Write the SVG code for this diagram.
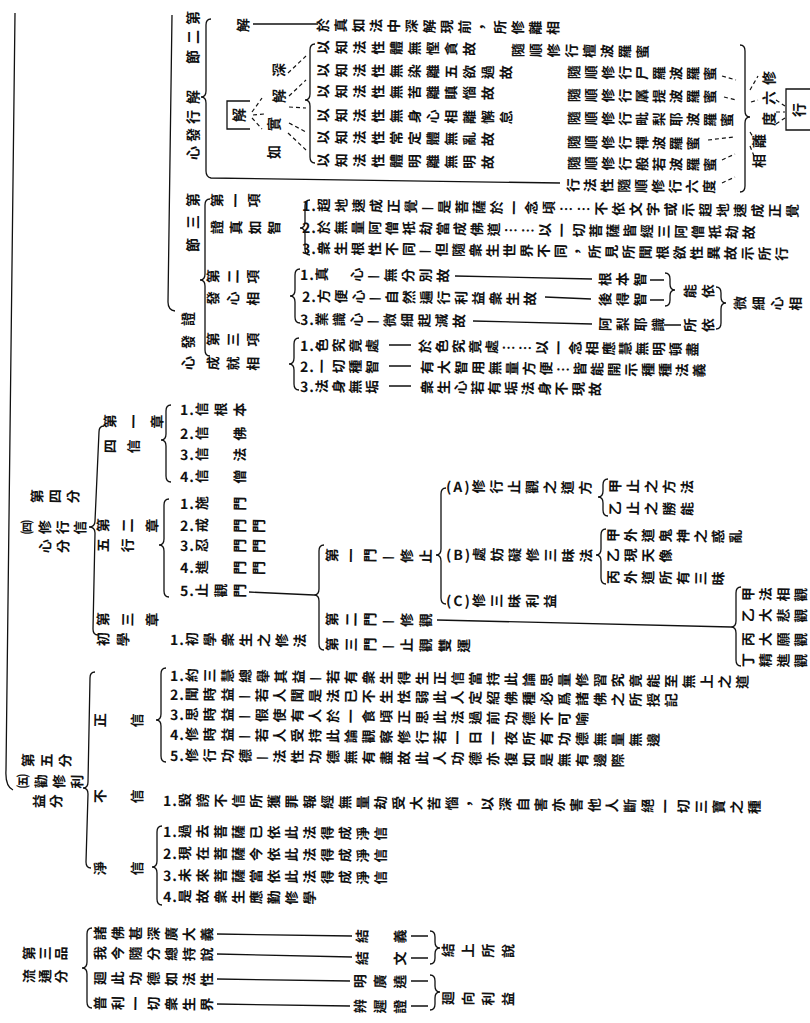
<svg xmlns="http://www.w3.org/2000/svg" width="810" height="1023" viewBox="0 0 810 1023">
<style>
.v{writing-mode:vertical-rl;font-family:"Noto Sans CJK TC","Noto Sans CJK SC",sans-serif;font-size:14px;font-weight:700;fill:#111}
.h{font-family:"Noto Sans CJK TC","Noto Sans CJK SC",sans-serif;font-size:14px;font-weight:700;fill:#111;text-anchor:middle;dominant-baseline:central}
.n{letter-spacing:1px}
.l{fill:none;stroke:#111;stroke-width:1.3}
.d{fill:none;stroke:#111;stroke-width:1.2;stroke-dasharray:4 3}
</style>
<rect width="810" height="1023" fill="#fff"/>
<g id="connectors">
<path class="l" d="M15,13 L6,770 Q5,786 13,790"/>
<path class="l" d="M172,15 L168,302 Q168,310 175,311"/>
<path class="l" d="M211,19 Q206,19 206,25 L206,91 Q206,97 201,97 Q206,97 206,103 L206,171 Q206,177 211,178 L560,183"/>
<path class="l" d="M253,24 L318,24"/>
<path class="l" d="M250,101 H227 V129 H250"/>
<path class="l" d="M810,89 H786 V130 H810"/>
<path class="d" d="M252,112 L262,98 M253,115 L264,114 M252,118 L262,129"/>
<path class="d" d="M288,73 L306,56 M289,96 L306,80 M289,107 L306,108 M289,123 L306,132 M288,133 L306,150"/>
<path class="l" d="M315,44 Q310,44 310,50 L310,94 Q310,100 305,100 Q310,100 310,106 L310,157 Q310,163 315,163"/>
<path class="d" d="M722,76 L736,80 M724,97 L736,100 M708,140 L734,137 M722,160 L735,154 M722,183 L735,177"/>
<path class="l" d="M740,45 Q745,45 745,51 L745,111 Q745,117 750,117 Q745,117 745,123 L745,186 Q745,192 740,192"/>
<path class="d" d="M750,90 L758,76 M751,102 L758,100 M750,132 L756,142 M750,146 L754,156"/>
<path class="d" d="M776,100 L785,106 M776,112 L785,112 M776,124 L785,118"/>
<path class="l" d="M210,199 Q205,199 205,205 L205,274 Q205,280 200,280 Q205,280 205,286 L205,350 Q205,356 210,356"/>
<path class="l" d="M310,200 Q305,200 305,206 L305,222 Q305,228 300,228 Q305,228 305,234 L305,249 Q305,255 310,255"/>
<path class="l" d="M300,269 Q295,269 295,275 L295,290 Q295,296 290,296 Q295,296 295,302 L295,317 Q295,323 300,323"/>
<path class="l" d="M299,338 Q294,338 294,344 L294,358 Q294,364 289,364 Q294,364 294,370 L294,384 Q294,390 299,390"/>
<path class="l" d="M455,276 L592,279 M545,297 L591,299 M473,321 L592,324"/>
<path class="l" d="M650,280 L664,280 M650,300 L664,300 M664,325 L681,325"/>
<path class="l" d="M665,273 Q670,273 670,279 L670,284 Q670,290 675,290 Q670,290 670,296 L670,300 Q670,306 665,306"/>
<path class="l" d="M716,287 Q721,287 721,293 L721,297 Q721,303 726,303 Q721,303 721,309 L721,323 Q721,329 716,329"/>
<path class="l" d="M389,345 L411,345 M389,366 L411,366 M389,386 L411,386"/>
<path class="l" d="M104,426 Q99,426 99,432 L95,521 Q95,527 89,527 Q95,527 95,533 L93,629 Q93,635 98,635"/>
<path class="l" d="M171,405 Q166,405 166,411 L166,434 Q166,440 161,440 Q166,440 166,446 L166,476 Q166,482 171,482"/>
<path class="l" d="M169,499 Q164,499 164,505 L164,539 Q164,545 159,545 Q164,545 164,551 L164,591 Q164,597 169,597"/>
<path class="l" d="M249,592 L314,595"/>
<path class="l" d="M324,545 Q319,545 319,551 L319,589 Q319,595 314,595 Q319,595 319,601 L319,644 Q319,650 324,650"/>
<path class="l" d="M446,488 Q441,488 441,494 L441,549 Q441,555 436,555 Q441,555 441,561 L441,598 Q441,604 446,604"/>
<path class="l" d="M608,479 Q603,479 603,485 L603,491 Q603,497 598,497 Q603,497 603,503 L603,510 Q603,516 608,516"/>
<path class="l" d="M606,529 Q601,529 601,535 L601,549 Q601,555 596,555 Q601,555 601,561 L601,578 Q601,584 606,584"/>
<path class="l" d="M437,620 L731,627"/>
<path class="l" d="M741,587 Q736,587 736,593 L736,621 Q736,627 731,627 Q736,627 736,633 L736,660 Q736,666 741,666"/>
<path class="l" d="M95,672 Q90,672 90,678 L88,782 Q88,788 83,788 Q88,788 88,794 L86,862 Q86,868 91,868"/>
<path class="l" d="M166,668 Q161,668 161,674 L161,714 Q161,720 156,720 Q161,720 161,726 L161,756 Q161,762 166,762"/>
<path class="l" d="M162,826 Q157,826 157,832 L157,861 Q157,867 152,867 Q157,867 157,873 L157,899 Q157,905 162,905"/>
<path class="l" d="M92,928 Q87,928 87,934 L87,962 Q87,968 82,968 Q87,968 87,974 L87,1002 Q87,1008 92,1008"/>
<path class="l" d="M217,934 L352,936 M217,954 L352,957 M217,979 L350,981 M217,1004 L350,1006"/>
<path class="l" d="M411,936 L428,936 M411,958 L428,958 M411,981 L428,981 M411,1006 L428,1006"/>
<path class="l" d="M430,931 Q435,931 435,937 L435,942 Q435,948 440,948 Q435,948 435,954 L435,958 Q435,964 430,964"/>
<path class="l" d="M430,975 Q435,975 435,981 L435,986 Q435,992 440,992 Q435,992 435,998 L435,1004 Q435,1010 430,1010"/>
</g>
<g id="n-jiexing">
<text class="h" transform="translate(192,0) rotate(-90)" x="-18 -37 -57">第二節</text>
<text class="h" transform="translate(192,0) rotate(-90)" x="-97 -117 -135 -153">解行發心</text>
<text class="v" transform="translate(236,25) rotate(-89.3)">解</text>
<text class="v" transform="translate(316,25) rotate(-89.3)" style="letter-spacing:3.7px">於真如法中深解現前，所修離相</text>
<text class="h" transform="translate(238,0) rotate(-90)" x="-115">解</text>
<text class="h" transform="translate(278,0) rotate(-90)" x="-70 -96">深解</text>
<text class="h" transform="translate(273,0) rotate(-90)" x="-152 -124">如實</text>
<text class="v" transform="translate(316,47) rotate(-89.3)" style="letter-spacing:4.3px">以知法性體無慳貪故</text>
<text class="v" transform="translate(316,70) rotate(-89.3)" style="letter-spacing:4.3px">以知法性無染離五欲過故</text>
<text class="v" transform="translate(316,91) rotate(-89.3)" style="letter-spacing:4.3px">以知法性無苦離瞋惱故</text>
<text class="v" transform="translate(316,115) rotate(-89.3)" style="letter-spacing:4.3px">以知法性無身心相離懈怠</text>
<text class="v" transform="translate(316,137) rotate(-89.3)" style="letter-spacing:4.3px">以知法性常定體無亂故</text>
<text class="v" transform="translate(316,160) rotate(-89.3)" style="letter-spacing:4.3px">以知法性體明離無明故</text>
<text class="v" transform="translate(511,50) rotate(-89.3)" style="letter-spacing:3.8px">隨順修行檀波羅蜜</text>
<text class="v" transform="translate(567,72) rotate(-89.3)" style="letter-spacing:3px">隨順修行尸羅波羅蜜</text>
<text class="v" transform="translate(567,95) rotate(-89.3)" style="letter-spacing:3px">隨順修行羼提波羅蜜</text>
<text class="v" transform="translate(567,118) rotate(-89.3)" style="letter-spacing:3px">隨順修行毗梨耶波羅蜜</text>
<text class="v" transform="translate(567,142) rotate(-89.3)" style="letter-spacing:3px">隨順修行禪波羅蜜</text>
<text class="v" transform="translate(567,163) rotate(-89.3)" style="letter-spacing:3px">隨順修行般若波羅蜜</text>
<text class="v" transform="translate(566,185) rotate(-89.3)" style="letter-spacing:3px">行法性隨順修行六度</text>
<text class="h" transform="translate(768,0) rotate(-90)" x="-78 -98 -119">修六度</text>
<text class="h" transform="translate(758,0) rotate(-90)" x="-141 -161">離相</text>
<text class="h" transform="translate(798,0) rotate(-90)" x="-110">行</text>
</g>
<g id="n-zheng">
<text class="h" transform="translate(192,0) rotate(-90)" x="-200 -222 -245">第三節</text>
<text class="h" transform="translate(187,0) rotate(-90)" x="-319 -342 -363">證發心</text>
<text class="v" transform="translate(210,200) rotate(-89.3)" style="letter-spacing:4.5px">第一項</text>
<text class="v" transform="translate(210,227) rotate(-89.3)" style="letter-spacing:5px">證真如智</text>
<text class="v" transform="translate(302,205) rotate(-89.3)" style="letter-spacing:3.4px"><tspan class="n">1.</tspan>超地速成正覺—是菩薩於一念頃……不依文字或示超地速成正覺</text>
<text class="v" transform="translate(302,227) rotate(-89.3)" style="letter-spacing:3px"><tspan class="n">2.</tspan>於無量阿僧祇劫當成佛道……以一切菩薩皆經三阿僧祇劫故</text>
<text class="v" transform="translate(302,248) rotate(-89.3)" style="letter-spacing:3px"><tspan class="n">3.</tspan>衆生根性不同—但隨衆生世界不同，所見所聞根欲性異故示所行</text>
<text class="v" transform="translate(206,276) rotate(-89.3)" style="letter-spacing:6px">第二項</text>
<text class="v" transform="translate(206,298) rotate(-89.3)" style="letter-spacing:6px">發心相</text>
<text class="v" transform="translate(300,274) rotate(-89.3)" style="letter-spacing:3.5px"><tspan class="n">1.</tspan>真　心—無分別故</text>
<text class="v" transform="translate(302,296) rotate(-89.3)" style="letter-spacing:3.3px"><tspan class="n">2.</tspan>方便心—自然遍行利益衆生故</text>
<text class="v" transform="translate(300,319) rotate(-89.3)" style="letter-spacing:3.3px"><tspan class="n">3.</tspan>業識心—微細起滅故</text>
<text class="v" transform="translate(598,279) rotate(-89.3)" style="letter-spacing:3.5px">根本智</text>
<text class="v" transform="translate(598,299) rotate(-89.3)" style="letter-spacing:3.5px">後得智</text>
<text class="v" transform="translate(598,324) rotate(-89.3)" style="letter-spacing:3.7px">阿梨耶識</text>
<text class="v" transform="translate(683,291) rotate(-89.3)" style="letter-spacing:4px">能依</text>
<text class="v" transform="translate(683,325) rotate(-89.3)" style="letter-spacing:4px">所依</text>
<text class="v" transform="translate(733,303) rotate(-89.3)" style="letter-spacing:4.5px">微細心相</text>
<text class="v" transform="translate(206,339) rotate(-89.3)" style="letter-spacing:6px">第三項</text>
<text class="v" transform="translate(206,363) rotate(-89.3)" style="letter-spacing:6px">成就相</text>
<text class="v" transform="translate(300,345) rotate(-89.3)" style="letter-spacing:2.7px"><tspan class="n">1.</tspan>色究竟處</text>
<text class="v" transform="translate(418,346) rotate(-89.3)" style="letter-spacing:2.7px">於色究竟處……以一念相應慧無明頓盡</text>
<text class="v" transform="translate(300,366) rotate(-89.3)" style="letter-spacing:2.7px"><tspan class="n">2.</tspan>一切種智</text>
<text class="v" transform="translate(420,367) rotate(-89.3)" style="letter-spacing:3px">有大智用無量方便…皆能開示種種法義</text>
<text class="v" transform="translate(300,386) rotate(-89.3)" style="letter-spacing:2.7px"><tspan class="n">3.</tspan>法身無垢</text>
<text class="v" transform="translate(420,387) rotate(-89.3)" style="letter-spacing:2.8px">衆生心若有垢法身不現故</text>
</g>
<g id="n-xiuxing">
<text class="v" transform="translate(30,496) rotate(-89.3)" style="letter-spacing:4px">第四分</text>
<text class="v" transform="translate(20,527) rotate(-89.3)" style="letter-spacing:3.7px">㈣修行信</text>
<text class="v" transform="translate(38,546) rotate(-89.3)" style="letter-spacing:4px">心分</text>
<text class="v" transform="translate(103,421) rotate(-89.3)" style="letter-spacing:9.5px">第一章</text>
<text class="v" transform="translate(103,446) rotate(-89.3)" style="letter-spacing:9.5px">四信</text>
<text class="v" transform="translate(180,409) rotate(-89.3)" style="letter-spacing:5px"><tspan class="n">1.</tspan>信根本</text>
<text class="v" transform="translate(180,433) rotate(-89.3)" style="letter-spacing:5px"><tspan class="n">2.</tspan>信　佛</text>
<text class="v" transform="translate(180,454) rotate(-89.3)" style="letter-spacing:5px"><tspan class="n">3.</tspan>信　法</text>
<text class="v" transform="translate(180,476) rotate(-89.3)" style="letter-spacing:5px"><tspan class="n">4.</tspan>信　僧</text>
<text class="v" transform="translate(96,525) rotate(-89.3)" style="letter-spacing:10.5px">第二章</text>
<text class="v" transform="translate(96,545) rotate(-89.3)" style="letter-spacing:10.5px">五行</text>
<text class="v" transform="translate(180,503) rotate(-89.3)" style="letter-spacing:5px"><tspan class="n">1.</tspan>施　門</text>
<text class="v" transform="translate(180,525) rotate(-89.3)" style="letter-spacing:5px"><tspan class="n">2.</tspan>戒　門門</text>
<text class="v" transform="translate(180,545) rotate(-89.3)" style="letter-spacing:5px"><tspan class="n">3.</tspan>忍　門門</text>
<text class="v" transform="translate(180,567) rotate(-89.3)" style="letter-spacing:5px"><tspan class="n">4.</tspan>進　門門</text>
<text class="v" transform="translate(180,590) rotate(-89.3)" style="letter-spacing:5px"><tspan class="n">5.</tspan>止觀門</text>
<text class="v" transform="translate(96,619) rotate(-89.3)" style="letter-spacing:10.5px">第三章</text>
<text class="v" transform="translate(96,639) rotate(-89.3)" style="letter-spacing:6px">初學</text>
<text class="v" transform="translate(170,639) rotate(-89.3)" style="letter-spacing:4px"><tspan class="n">1.</tspan>初學衆生之修法</text>
<text class="v" transform="translate(325,555) rotate(-89.3)" style="letter-spacing:5px">第一門—修止</text>
<text class="v" transform="translate(325,619) rotate(-89.3)" style="letter-spacing:5px">第二門—修觀</text>
<text class="v" transform="translate(325,644) rotate(-89.3)" style="letter-spacing:5px">第三門—止觀雙運</text>
<text class="v" transform="translate(446,486) rotate(-89.3)" style="letter-spacing:3.8px"><tspan style="letter-spacing:2px">(A)</tspan>修行止觀之道方</text>
<text class="v" transform="translate(446,554) rotate(-89.3)" style="letter-spacing:3.8px"><tspan style="letter-spacing:2px">(B)</tspan>處妨礙修三昧法</text>
<text class="v" transform="translate(446,600) rotate(-89.3)" style="letter-spacing:3.8px"><tspan style="letter-spacing:2px">(C)</tspan>修三昧利益</text>
<text class="v" transform="translate(608,486) rotate(-89.3)" style="letter-spacing:4px">甲止之方法</text>
<text class="v" transform="translate(608,508) rotate(-89.3)" style="letter-spacing:4px">乙止之勝能</text>
<text class="v" transform="translate(606,535) rotate(-89.3)" style="letter-spacing:3.5px">甲外道鬼神之惑亂</text>
<text class="v" transform="translate(606,555) rotate(-89.3)" style="letter-spacing:3.5px">乙現天像</text>
<text class="v" transform="translate(606,577) rotate(-89.3)" style="letter-spacing:3.5px">丙外道所有三昧</text>
<text class="v" transform="translate(741,594) rotate(-89.3)" style="letter-spacing:3.6px">甲法相觀</text>
<text class="v" transform="translate(741,615) rotate(-89.3)" style="letter-spacing:3.6px">乙大悲觀</text>
<text class="v" transform="translate(741,639) rotate(-89.3)" style="letter-spacing:3.6px">丙大願觀</text>
<text class="v" transform="translate(741,660) rotate(-89.3)" style="letter-spacing:3.6px">丁精進觀</text>
</g>
<g id="n-quanxiu">
<text class="v" transform="translate(21,760) rotate(-89.3)" style="letter-spacing:4.5px">第五分</text>
<text class="v" transform="translate(16,781) rotate(-89.3)" style="letter-spacing:4px">㈤勸修利</text>
<text class="v" transform="translate(32,801) rotate(-89.3)" style="letter-spacing:3px">益分</text>
<text class="v" transform="translate(93,720) rotate(-89.3)" style="letter-spacing:4.5px">正　信</text>
<text class="v" transform="translate(170,675) rotate(-89.3)" style="letter-spacing:3.8px"><tspan class="n">1.</tspan>約三慧總舉其益—若有衆生得生正信當持此論思量修習究竟能至無上之道</text>
<text class="v" transform="translate(170,694) rotate(-89.3)" style="letter-spacing:3.8px"><tspan class="n">2.</tspan>聞時益—若人聞是法已不生怯弱此人定紹佛種必爲諸佛之所授記</text>
<text class="v" transform="translate(170,714) rotate(-89.3)" style="letter-spacing:3.8px"><tspan class="n">3.</tspan>思時益—假使有人於一食頃正思此法過前功德不可喻</text>
<text class="v" transform="translate(170,734) rotate(-89.3)" style="letter-spacing:3.8px"><tspan class="n">4.</tspan>修時益—若人受持此論觀察修行若一日一夜所有功德無量無邊</text>
<text class="v" transform="translate(170,755) rotate(-89.3)" style="letter-spacing:3.8px"><tspan class="n">5.</tspan>修行功德—法性功德無有盡故此人功德亦復如是無有邊際</text>
<text class="v" transform="translate(93,796) rotate(-89.3)" style="letter-spacing:4.5px">不　信</text>
<text class="v" transform="translate(163,800) rotate(-89.3)" style="letter-spacing:3.8px"><tspan class="n">1.</tspan>毀謗不信所獲罪報經無量劫受大苦惱，以深自害亦害他人斷絕一切三寶之種</text>
<text class="v" transform="translate(93,868) rotate(-89.3)" style="letter-spacing:4.5px">淨　信</text>
<text class="v" transform="translate(163,831) rotate(-89.3)" style="letter-spacing:3.8px"><tspan class="n">1.</tspan>過去菩薩已依此法得成淨信</text>
<text class="v" transform="translate(163,853) rotate(-89.3)" style="letter-spacing:3.8px"><tspan class="n">2.</tspan>現在菩薩今依此法得成淨信</text>
<text class="v" transform="translate(163,875) rotate(-89.3)" style="letter-spacing:3.8px"><tspan class="n">3.</tspan>未來菩薩當依此法得成淨信</text>
<text class="v" transform="translate(163,896) rotate(-89.3)" style="letter-spacing:3.8px"><tspan class="n">4.</tspan>是故衆生應勤修學</text>
</g>
<g id="n-liutong">
<text class="v" transform="translate(22,953) rotate(-89.3)" style="letter-spacing:2px">第三品</text>
<text class="v" transform="translate(22,976) rotate(-89.3)" style="letter-spacing:2px">流通分</text>
<text class="v" transform="translate(93,933) rotate(-89.3)" style="letter-spacing:3.8px">諸佛甚深廣大義</text>
<text class="v" transform="translate(93,953) rotate(-89.3)" style="letter-spacing:3.8px">我今隨分總持說</text>
<text class="v" transform="translate(93,978) rotate(-89.3)" style="letter-spacing:3.8px">廻此功德如法性</text>
<text class="v" transform="translate(93,1003) rotate(-89.3)" style="letter-spacing:3.8px">普利一切衆生界</text>
<text class="v" transform="translate(355,936) rotate(-89.3)" style="letter-spacing:5px">結　義</text>
<text class="v" transform="translate(355,958) rotate(-89.3)" style="letter-spacing:5px">結　文</text>
<text class="v" transform="translate(353,981) rotate(-89.3)" style="letter-spacing:6px">明廣遶</text>
<text class="v" transform="translate(353,1006) rotate(-89.3)" style="letter-spacing:6px">辨遲證</text>
<text class="v" transform="translate(441,950) rotate(-89.3)" style="letter-spacing:6px">結上所說</text>
<text class="v" transform="translate(441,998) rotate(-89.3)" style="letter-spacing:6px">廻向利益</text>
</g>
</svg>
